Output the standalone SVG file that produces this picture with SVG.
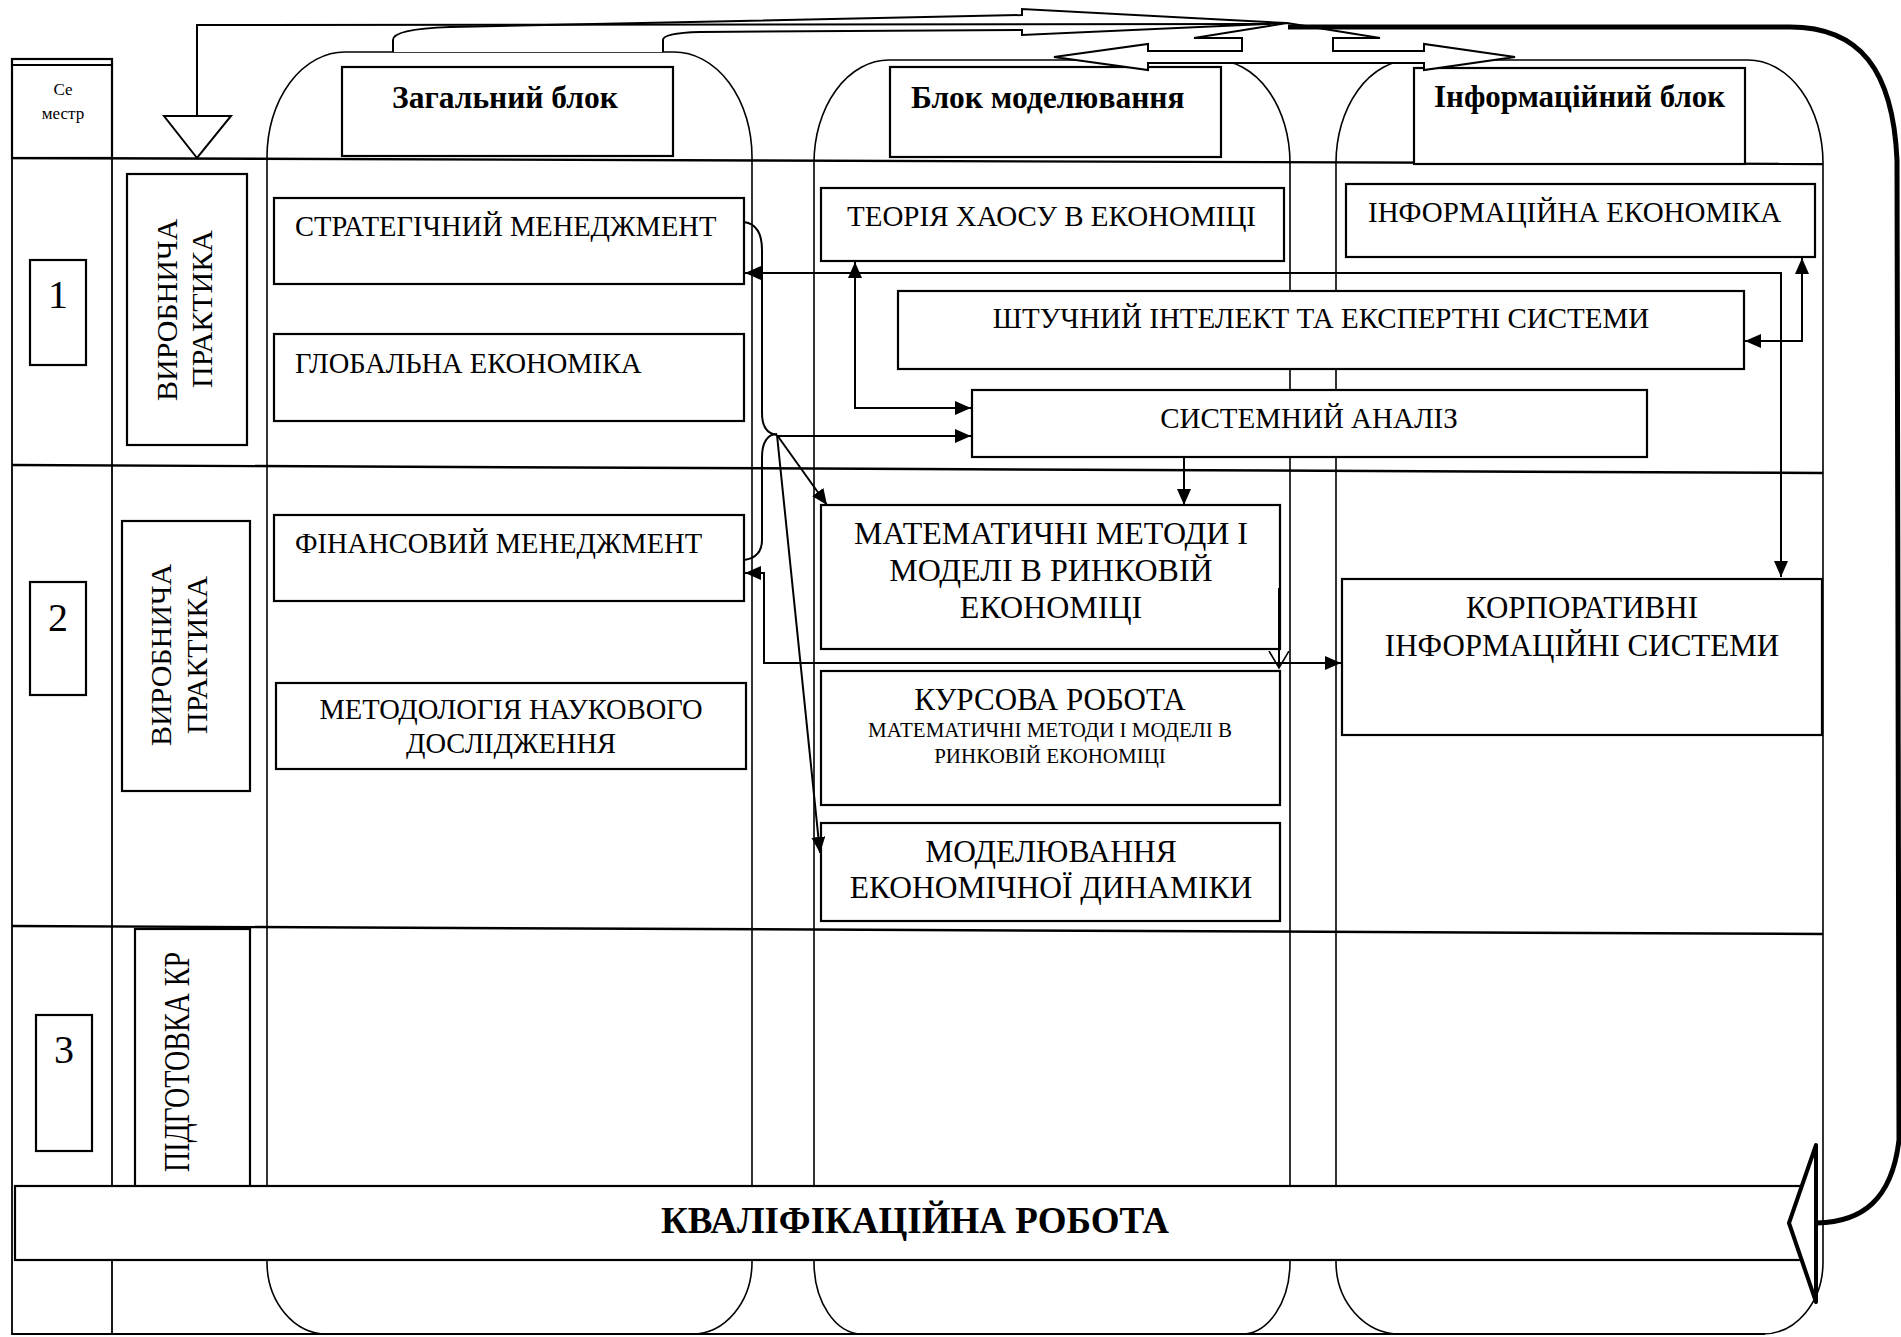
<svg xmlns="http://www.w3.org/2000/svg" width="1901" height="1337" viewBox="0 0 1901 1337">
<style>
.col{fill:none;stroke:#000;stroke-width:1.6}
.row{stroke:#000;stroke-width:2.4;fill:none}
.frm{stroke:#000;stroke-width:1.8;fill:none}
.box{fill:#fff;stroke:#000;stroke-width:2.2}
.t{font-family:"Liberation Serif","Times New Roman",serif;fill:#000}
.b{font-weight:bold}
.c{text-anchor:middle}
.conn{stroke:#000;stroke-width:2;fill:none}
.blk{fill:#fff;stroke:#000;stroke-width:2}
</style>
<defs>
<marker id="ah" markerUnits="userSpaceOnUse" markerWidth="17" markerHeight="14" refX="16" refY="7" orient="auto-start-reverse"><path d="M0,0 L16,7 L0,14 z" fill="#000"/></marker>
<marker id="av" markerUnits="userSpaceOnUse" markerWidth="20" markerHeight="22" refX="17" refY="10" orient="auto"><path d="M0,0 L17,10 L0,20" fill="none" stroke="#000" stroke-width="1.6"/></marker>
</defs>
<rect width="1901" height="1337" fill="#fff"/>

<g id="frame">
<line class="frm" x1="12" y1="58" x2="12" y2="1335"/>
<line class="frm" x1="112" y1="58" x2="112" y2="1335"/>
<line class="frm" x1="12" y1="1334" x2="1765" y2="1334"/>
</g>

<g id="columns">
<path id="col-general" class="col" d="M267,1262 L267,157 A78,105 0 0 1 345,52 L674,52 A78,105 0 0 1 752,157 L752,1262 A60,72 0 0 1 692,1334 L327,1334 A60,72 0 0 1 267,1262 Z"/>
<path id="col-model" class="col" d="M814,1262 L814,163 A75,103 0 0 1 889,60 L1215,60 A75,103 0 0 1 1290,163 L1290,1262 A48,72 0 0 1 1242,1334 L862,1334 A48,72 0 0 1 814,1262 Z"/>
<path id="col-info" class="col" d="M1336,1262 L1336,163 A75,103 0 0 1 1411,60 L1748,60 A75,103 0 0 1 1823,163 L1823,1262 A60,72 0 0 1 1763,1334 L1400,1334 A64,72 0 0 1 1336,1262 Z"/>
</g>

<g id="rows">
<line class="row" x1="12" y1="158" x2="1823" y2="164"/>
<line class="row" x1="12" y1="465" x2="1823" y2="473"/>
<line class="row" x1="12" y1="926" x2="1823" y2="934"/>
</g>

<g id="semester">
<rect class="box" x="12" y="59" width="100" height="99"/>
<line class="frm" x1="12" y1="65" x2="112" y2="65"/>
<text class="t c" x="63" y="95" font-size="17">Се</text>
<text class="t c" x="63" y="119" font-size="17">местр</text>
</g>

<g id="sem1"><rect class="box" x="30" y="260" width="56" height="105"/><text class="t c" x="58" y="308" font-size="40">1</text></g>
<g id="sem2"><rect class="box" x="30" y="582" width="56" height="113"/><text class="t c" x="58" y="631" font-size="40">2</text></g>
<g id="sem3"><rect class="box" x="36" y="1015" width="56" height="136"/><text class="t c" x="64" y="1063" font-size="40">3</text></g>

<g id="practice1"><rect class="box" x="127" y="174" width="120" height="271"/>
<text class="t c" font-size="30" transform="translate(177,310) rotate(-90)">ВИРОБНИЧА</text>
<text class="t c" font-size="30" transform="translate(212,309) rotate(-90)">ПРАКТИКА</text></g>
<g id="practice2"><rect class="box" x="122" y="521" width="128" height="270"/>
<text class="t c" font-size="30" transform="translate(171,655) rotate(-90)">ВИРОБНИЧА</text>
<text class="t c" font-size="30" transform="translate(207,655) rotate(-90)">ПРАКТИКА</text></g>
<g id="prep"><rect class="box" x="135" y="929" width="115" height="300"/>
<text class="t c" font-size="36" textLength="220" lengthAdjust="spacingAndGlyphs" transform="translate(189,1062) rotate(-90)">ПІДГОТОВКА КР</text></g>

<g id="hdr-general"><rect class="box" x="342" y="67" width="331" height="89"/><text class="t b" x="392" y="108" font-size="31.5">Загальний блок</text></g>
<g id="hdr-model"><rect class="box" x="890" y="67" width="331" height="90"/><text class="t b" x="911" y="108" font-size="31.5">Блок моделювання</text></g>
<g id="hdr-info"><rect class="box" x="1414" y="68" width="331" height="96"/><text class="t b" x="1434" y="107" font-size="31">Інформаційний блок</text></g>

<g id="n-strat"><rect class="box" x="274" y="198" width="470" height="86"/><text class="t" x="295" y="236" font-size="28.5">СТРАТЕГІЧНИЙ МЕНЕДЖМЕНТ</text></g>
<g id="n-global"><rect class="box" x="274" y="334" width="470" height="87"/><text class="t" x="295" y="373" font-size="28.5">ГЛОБАЛЬНА ЕКОНОМІКА</text></g>
<g id="n-fin"><rect class="box" x="274" y="515" width="470" height="86"/><text class="t" x="295" y="553" font-size="28.5">ФІНАНСОВИЙ МЕНЕДЖМЕНТ</text></g>
<g id="n-method"><rect class="box" x="276" y="683" width="470" height="86"/><text class="t c" x="511" y="719" font-size="28.5">МЕТОДОЛОГІЯ НАУКОВОГО</text><text class="t c" x="511" y="753" font-size="28.5">ДОСЛІДЖЕННЯ</text></g>

<g id="n-chaos"><rect class="box" x="821" y="188" width="463" height="73"/><text class="t" x="847" y="226" font-size="29">ТЕОРІЯ ХАОСУ В ЕКОНОМІЦІ</text></g>
<g id="n-infoecon"><rect class="box" x="1346" y="184" width="469" height="73"/><text class="t" x="1368" y="222" font-size="29">ІНФОРМАЦІЙНА ЕКОНОМІКА</text></g>
<g id="n-ai"><rect class="box" x="898" y="291" width="846" height="78"/><text class="t c" x="1321" y="328" font-size="29">ШТУЧНИЙ ІНТЕЛЕКТ ТА ЕКСПЕРТНІ СИСТЕМИ</text></g>
<g id="n-sysan"><rect class="box" x="972" y="390" width="675" height="67"/><text class="t c" x="1309" y="428" font-size="29">СИСТЕМНИЙ АНАЛІЗ</text></g>
<g id="n-math"><rect class="box" x="821" y="505" width="459" height="144"/>
<text class="t c" x="1051" y="544" font-size="32">МАТЕМАТИЧНІ МЕТОДИ І</text>
<text class="t c" x="1051" y="581" font-size="32">МОДЕЛІ В РИНКОВІЙ</text>
<text class="t c" x="1051" y="618" font-size="32">ЕКОНОМІЦІ</text></g>
<g id="n-course"><rect class="box" x="821" y="671" width="459" height="134"/>
<text class="t c" x="1050" y="710" font-size="31">КУРСОВА РОБОТА</text>
<text class="t c" x="1050" y="737" font-size="21">МАТЕМАТИЧНІ МЕТОДИ І МОДЕЛІ В</text>
<text class="t c" x="1050" y="763" font-size="21">РИНКОВІЙ ЕКОНОМІЦІ</text></g>
<g id="n-dyn"><rect class="box" x="821" y="823" width="459" height="98"/>
<text class="t c" x="1051" y="862" font-size="31.5">МОДЕЛЮВАННЯ</text>
<text class="t c" x="1051" y="898" font-size="31.5">ЕКОНОМІЧНОЇ ДИНАМІКИ</text></g>
<g id="n-corp"><rect class="box" x="1342" y="579" width="480" height="156"/>
<text class="t c" x="1582" y="618" font-size="31">КОРПОРАТИВНІ</text>
<text class="t c" x="1582" y="656" font-size="31">ІНФОРМАЦІЙНІ СИСТЕМИ</text></g>

<g id="connectors">
<path class="conn" d="M744,222 C758,224 762,235 762,250 L762,413 C762,428 768,434 777,435"/>
<path class="conn" d="M744,560 C758,558 762,550 762,540 L762,457 C762,442 768,434 777,434"/>
<path class="conn" d="M777,436 L971,436" marker-end="url(#ah)"/>
<path class="conn" d="M777,435 L827,505" marker-end="url(#ah)"/>
<path class="conn" d="M777,435 L820,853" marker-end="url(#ah)"/>
<path class="conn" d="M745,273 L1781,273 L1781,577" marker-start="url(#ah)" marker-end="url(#ah)"/>
<path class="conn" d="M855,262 L855,408 L971,408" marker-start="url(#ah)" marker-end="url(#ah)"/>
<path class="conn" d="M1745,341 L1802,341 L1802,258" marker-start="url(#ah)" marker-end="url(#ah)"/>
<path class="conn" d="M1184,457 L1184,505" marker-end="url(#ah)"/>
<path class="conn" d="M745,573 L764,573 L764,663 L1341,663" marker-start="url(#ah)" marker-end="url(#ah)"/>
<path class="conn" d="M1279,588 L1279,668" marker-end="url(#av)"/>
</g>

<g id="top-arrows">
<path class="blk" d="M393,52 L393,40 Q393,29 450,27 L1022,15 L1022,9 L1286,23 L1022,35 L1022,30 L700,32 Q663,33 663,40 L663,52"/>
<path class="blk" d="M1054,57 L1148,44 L1148,51 L1242,51 L1242,38 L1194,38 L1287,23 L1380,38 L1333,38 L1333,51 L1424,51 L1424,44 L1515,57 L1424,70 L1424,63 L1148,63 L1148,70 Z"/>
<path class="conn" d="M197,116 L197,25 L1270,24"/>
<polygon class="blk" points="164,116 231,116 197,158"/>
</g>

<g id="final-work">
<rect class="box" x="15" y="1186" width="1790" height="74"/>
<text class="t b c" x="915" y="1233" font-size="37">КВАЛІФІКАЦІЙНА РОБОТА</text>
</g>

<g id="return-arrow">
<path d="M1288,27 L1790,27 C1860,27 1893,70 1897,160 L1899,1140 C1892,1200 1862,1222 1817,1223" fill="none" stroke="#000" stroke-width="5"/>
<polygon points="1816,1145 1789,1223 1816,1302" fill="#fff" stroke="#000" stroke-width="4" stroke-linejoin="round"/>
</g>
</svg>
